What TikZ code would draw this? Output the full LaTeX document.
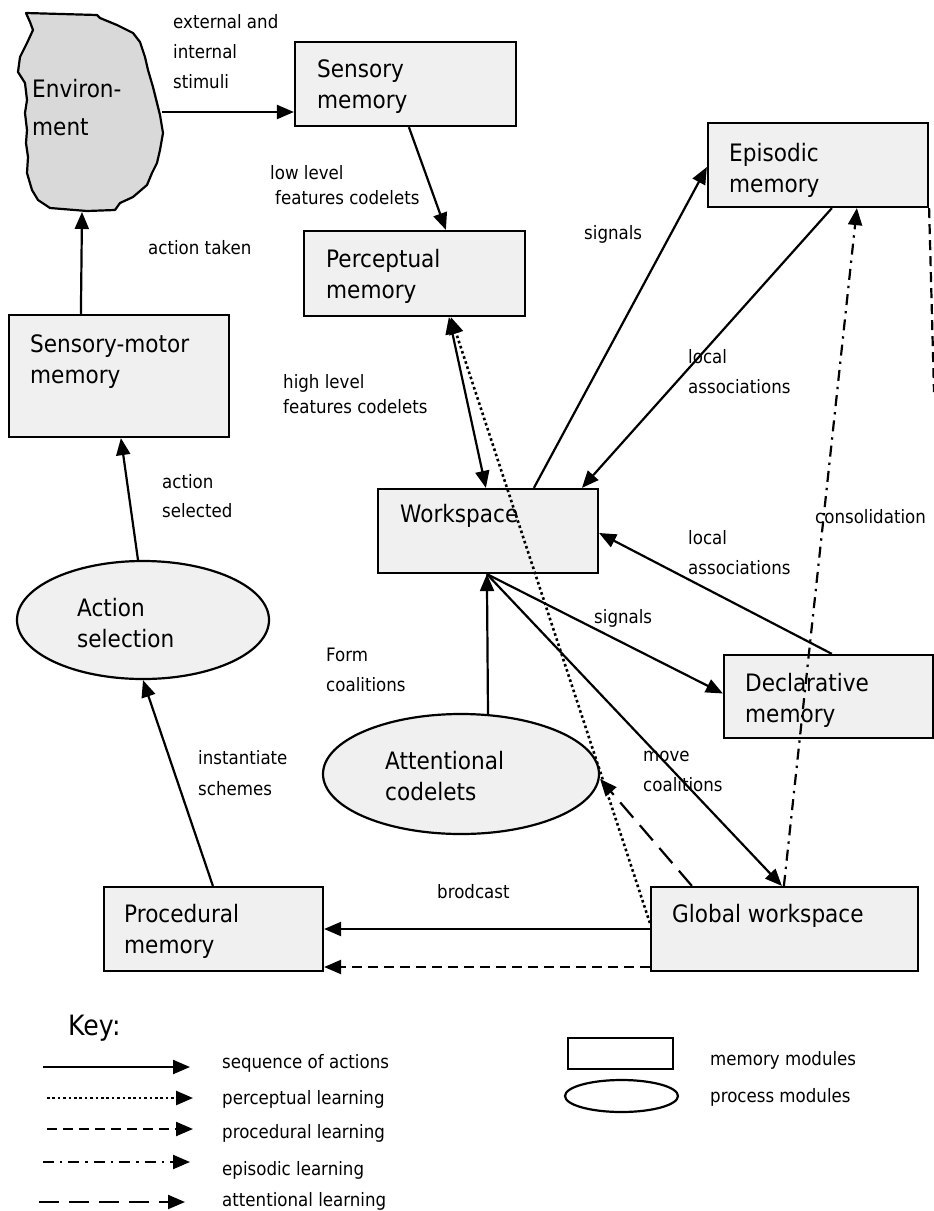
\documentclass[tikz,border=0pt]{standalone}
\usepackage{fontspec}
\setmainfont{DejaVu Sans}[FakeStretch=0.9]
\usetikzlibrary{arrows.meta,calc,shapes.geometric}
\definecolor{boxfill}{RGB}{240,240,240}
\definecolor{envfill}{RGB}{217,217,217}
\tikzset{
  mem/.style={draw, fill=boxfill, rectangle, inner sep=0pt, line width=2.2pt},
  procm/.style={draw, fill=boxfill, ellipse, inner sep=0pt, line width=2.2pt},
  txt/.style={font=\fontsize{24}{31}\selectfont, anchor=base west, align=left, inner sep=0pt},
  lab/.style={font=\fontsize{18.5}{30}\selectfont, anchor=base west, align=left, inner sep=0pt},
  arr/.style={line width=2.2pt, -{Triangle[length=17pt,width=14pt]}},
  dbl/.style={line width=2.2pt, {Triangle[length=17pt,width=14pt]}-{Triangle[length=17pt,width=14pt]}},
  dotline/.style={arr, line width=2.6pt, dash pattern=on 2.6pt off 2.8pt},
  procdash/.style={arr, dash pattern=on 10pt off 6pt},
  epidash/.style={arr, dash pattern=on 11pt off 6pt on 2.4pt off 6pt},
  attdash/.style={arr, dash pattern=on 20pt off 10pt}
}
\begin{document}
\begin{tikzpicture}[x=1pt,y=-1pt]
\useasboundingbox (0,0) rectangle (934,1211);
% environment
\draw[fill=envfill, line width=2.2pt, line join=round] (26,13) -- (97,15) -- (100,18) -- (117,25) -- (133,33) -- (140,42) -- (145,57) -- (148,70) -- (153,87) -- (157,103) -- (160,115) -- (163,133) -- (160,150) -- (157,163) -- (152,173) -- (147,185) -- (133,197) -- (120,203) -- (115,210) -- (87,211) -- (50,208) -- (38,200) -- (32,190) -- (27,173) -- (28,157) -- (26,143) -- (27,130) -- (25,113) -- (27,100) -- (25,83) -- (18,72) -- (20,57) -- (27,43) -- (33,30) -- (30,22) -- cycle;
\coordinate (envE) at (162,112);
\coordinate (envS) at (82,212);
\node[txt, font=\fontsize{24}{38}\selectfont] (envt) at (32,135) {Environ-\\ment};

% memory boxes
\node[mem, minimum width=221pt, minimum height=84pt] (sens) at (405.5,84) {};
\node[mem, minimum width=221pt, minimum height=85pt] (perc) at (414.5,273.5) {};
\node[mem, minimum width=220pt, minimum height=84pt] (epi) at (818,165) {};
\node[mem, minimum width=220pt, minimum height=122pt] (smm) at (119,376) {};
\node[mem, minimum width=220pt, minimum height=84pt] (ws) at (488,531) {};
\node[mem, minimum width=209pt, minimum height=83pt] (decl) at (828.5,696.5) {};
\node[mem, minimum width=219pt, minimum height=84pt] (proc) at (213.5,929) {};
\node[mem, minimum width=267pt, minimum height=84pt] (gw) at (784.5,929) {};
% process ellipses
\node[procm, minimum width=276pt, minimum height=120pt] (attn) at (461,774) {};
\node[procm, minimum width=252pt, minimum height=118pt] (act) at (143,620) {};

% box texts (anchor = baseline of last line)
\node[txt] (senst) at (317,108) {Sensory\\memory};
\node[txt] (perct) at (326,298) {Perceptual\\memory};
\node[txt] (epit) at (729,192) {Episodic\\memory};
\node[txt] (smmt) at (30,383) {Sensory-motor\\memory};
\node[txt] (wst) at (400,522) {Workspace};
\node[txt] (declt) at (745,722) {Declarative\\memory};
\node[txt] (proct) at (124,953) {Procedural\\memory};
\node[txt] (gwt) at (672,922) {Global workspace};
\node[txt] (attnt) at (385,800) {Attentional\\codelets};
\node[txt] (actt) at (77,647) {Action\\selection};

% labels
\node[lab] (l1) at (173,88) {external and\\internal\\stimuli};
\node[lab, font=\fontsize{18.5}{25}\selectfont] (l2) at (270,204) {low level\\\hspace*{5pt}features codelets};
\node[lab] (l3) at (148,254) {action taken};
\node[lab, font=\fontsize{18.5}{25}\selectfont] (l4) at (283,413) {high level\\features codelets};
\node[lab] (l5) at (584,239) {signals};
\node[lab] (l6) at (688,393) {local\\associations};
\node[lab, font=\fontsize{18.5}{29}\selectfont] (l7) at (162,517) {action\\selected};
\node[lab] (l8) at (815,523) {consolidation};
\node[lab] (l9) at (688,574) {local\\associations};
\node[lab] (l10) at (594,623) {signals};
\node[lab] (l11) at (326,691) {Form\\coalitions};
\node[lab, font=\fontsize{18.5}{31}\selectfont] (l12) at (198,795) {instantiate\\schemes};
\node[lab] (l13) at (643,791) {move\\coalitions};
\node[lab] (l14) at (437,898) {brodcast};

% connectors
\draw[arr] (envE) -- (sens.west |- envE);
\draw[arr] ([xshift=115pt]sens.south west) -- ([xshift=143pt]perc.north west);
\draw[arr] ([xshift=73pt]smm.north west) -- (envS);
\draw[arr] ([xshift=-5pt]act.north) -- ([xshift=113pt]smm.south west);
\draw[arr] ([xshift=110pt]proc.north west) -- (act.south);
\draw[dbl] ([xshift=146pt]perc.south west) -- ([xshift=109pt]ws.north west);
\draw[dotline] ([yshift=6pt]gw.west) -- ([xshift=148pt]perc.south west);
\draw[arr] ([xshift=157pt]ws.north west) -- ([yshift=-2pt]epi.west);
\draw[arr] ([xshift=125pt]epi.south west) -- ([xshift=205pt]ws.north west);
\draw[arr] ([xshift=109pt]decl.north west) -- ([yshift=-2pt]ws.east);
\draw[arr] ([xshift=110pt]ws.south west) -- ([yshift=3pt]decl.west);
\draw[arr] ([xshift=27pt,yshift=-1pt]attn.north) -- ([xshift=110pt]ws.south west);
\draw[arr] ([xshift=110pt]ws.south west) -- ([xshift=132pt]gw.north west);
\draw[attdash] ([xshift=42pt]gw.north west) -- ([yshift=-5pt]attn.east);
\draw[arr] (gw.west) -- (proc.east);
\draw[procdash] ([yshift=-38pt]gw.west) -- ([yshift=-38pt]proc.east);
\draw[epidash] ([xshift=134pt]gw.north west) -- ([xshift=150pt]epi.south west);
\coordinate (offR) at (934,392);
\draw[line width=2.2pt, dash pattern=on 10pt off 6pt] (epi.south east) -- (offR);

% key
\node[font=\fontsize{28}{32}\selectfont, anchor=base west, inner sep=0pt] (keyt) at (68,1035) {Key:};
\coordinate (k1a) at (43,1067); \coordinate (k1b) at (190,1067);
\coordinate (k2a) at (47,1098); \coordinate (k2b) at (193,1098);
\coordinate (k3a) at (47,1129); \coordinate (k3b) at (193,1129);
\coordinate (k4a) at (43,1162); \coordinate (k4b) at (190,1162);
\coordinate (k5a) at (39,1202); \coordinate (k5b) at (185,1202);
\draw[arr] (k1a) -- (k1b);
\draw[dotline] (k2a) -- (k2b);
\draw[procdash] (k3a) -- (k3b);
\draw[epidash] (k4a) -- (k4b);
\draw[attdash] (k5a) -- (k5b);
\node[lab] (kl1) at (222,1068) {sequence of actions};
\node[lab] (kl2) at (222,1104) {perceptual learning};
\node[lab] (kl3) at (222,1138) {procedural learning};
\node[lab] (kl4) at (222,1175) {episodic learning};
\node[lab] (kl5) at (222,1206) {attentional learning};
\node[mem, fill=white, minimum width=105pt, minimum height=31pt] (keyrect) at (620.5,1053.5) {};
\node[procm, fill=white, minimum width=113pt, minimum height=32pt] (keyell) at (621.5,1096) {};
\node[lab] (kl6) at (710,1065) {memory modules};
\node[lab] (kl7) at (710,1102) {process modules};
\end{tikzpicture}
\end{document}
